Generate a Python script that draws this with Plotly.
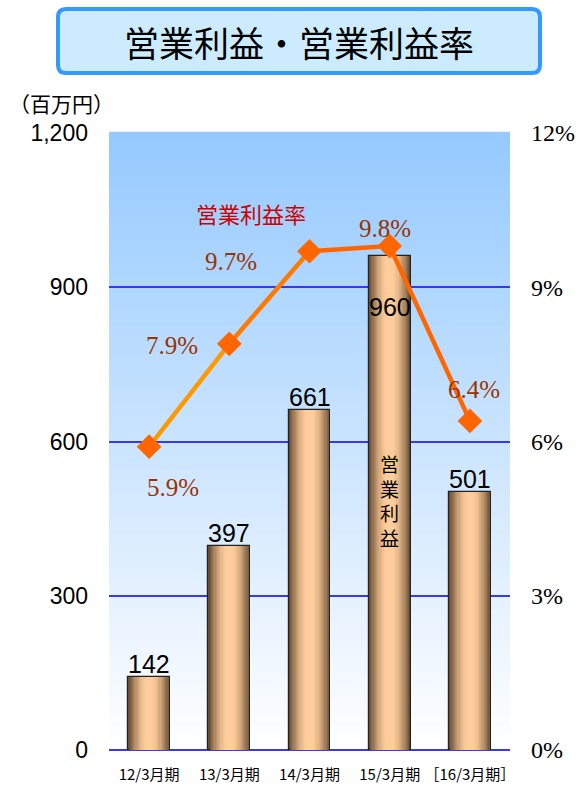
import plotly.graph_objects as go

# ---------------- data ----------------
categories = ["12/3月期", "13/3月期", "14/3月期", "15/3月期", "［16/3月期］"]
profit = [142, 397, 661, 960, 501]            # 営業利益 (百万円)
margin = [5.9, 7.9, 9.7, 9.8, 6.4]             # 営業利益率 (%)
left_ticks = [0, 300, 600, 900, 1200]
right_ticks = [0, 3, 6, 9, 12]

# ---------------- layout geometry ----------------
W, H = 582, 789
ML, MR, MT, MB = 109, 72, 133, 39
PW, PH = W - ML - MR, H - MT - MB

def px_x(px):
    return (px - ML) / PW

def px_y(py):
    return (H - MB - py) / PH

fig = go.Figure()

# bars with cylinder-like horizontal gradient (overlayed bars)
n_layers = 16
edge = (105, 78, 52)
center = (255, 205, 155)
base_w = 0.52
for i in range(n_layers):
    t = i / (n_layers - 1)
    k = 1 - (1 - t) ** 1.6
    c = tuple(int(edge[j] + (center[j] - edge[j]) * k) for j in range(3))
    w = base_w * (1 - 0.85 * t)
    fig.add_trace(go.Bar(
        x=categories, y=profit, width=w,
        marker=dict(color="rgb(%d,%d,%d)" % c,
                    line=dict(color="#222222" if i == 0 else "rgba(0,0,0,0)",
                              width=1.2 if i == 0 else 0)),
        hoverinfo="skip", showlegend=False, yaxis="y"))

# margin line segments (color shifts along the line)
seg_colors = ["#FF9900", "#FF7A00", "#FF6600", "#FF6600"]
for i in range(len(categories) - 1):
    fig.add_trace(go.Scatter(
        x=categories[i:i + 2], y=margin[i:i + 2], mode="lines",
        line=dict(color=seg_colors[i], width=4.5),
        yaxis="y2", showlegend=False, hoverinfo="skip"))
fig.add_trace(go.Scatter(
    x=categories, y=margin, mode="markers",
    marker=dict(symbol="diamond", size=19, color="#FF6600"),
    yaxis="y2", showlegend=False, hoverinfo="skip"))

annotations = []
# bar value labels
for i, (c, v) in enumerate(zip(categories, profit)):
    inside = (i == 3)
    annotations.append(dict(
        x=c, y=v, xref="x", yref="y", text=str(v), showarrow=False,
        xanchor="center", yanchor="top" if inside else "bottom",
        yshift=-35 if inside else -3,
        font=dict(family="Liberation Sans, Arial", size=25, color="black")))

# margin labels (offsets in px)
label_offsets = [(24, -41), (-57, -2), (-79, -10), (-5, 18), (4, 31)]
for c, v, (dx, dy) in zip(categories, margin, label_offsets):
    annotations.append(dict(
        x=c, y=v, xref="x", yref="y2", text="%.1f%%" % v, showarrow=False,
        xanchor="center", yanchor="middle", xshift=dx, yshift=dy,
        font=dict(family="Liberation Serif, Times New Roman", size=25, color="#993300")))

def txt(xp, yp, text, size, color="black", family="Noto Sans CJK JP"):
    return dict(x=px_x(xp), y=px_y(yp), xref="paper", yref="paper", text=text,
                showarrow=False, xanchor="center", yanchor="middle",
                font=dict(family=family, size=size, color=color))

annotations += [
    txt(251, 213, "営業利益率", 22, "#CC0000"),
    dict(x=categories[3], y=px_y(500), xref="x", yref="paper",
         text="営<br>業<br>利<br>益", showarrow=False, xanchor="center", yanchor="middle",
         font=dict(family="Noto Sans CJK JP", size=19, color="black")),
    txt(61, 103, "（百万円）", 21),
    txt(299, 41, "営業利益・営業利益率", 35),
]

shapes = []
# vertical gradient background of plot area
nb = 80
top = (150, 202, 255)
bot = (255, 255, 255)
for i in range(nb):
    t = i / (nb - 1)
    c = tuple(int(top[j] + (bot[j] - top[j]) * t) for j in range(3))
    shapes.append(dict(type="rect", xref="x domain", yref="y domain",
                       x0=0, x1=1, y0=1 - (i + 1) / nb, y1=1 - i / nb + 0.002,
                       fillcolor="rgb(%d,%d,%d)" % c, line=dict(width=0), layer="below"))

# title box (rounded rectangle)
x0, x1, y0, y1, r = px_x(58), px_x(540), px_y(73), px_y(9), 8
rx, ry = r / PW, r / PH
path = (f"M {x0+rx},{y0} L {x1-rx},{y0} Q {x1},{y0} {x1},{y0+ry} "
        f"L {x1},{y1-ry} Q {x1},{y1} {x1-rx},{y1} L {x0+rx},{y1} "
        f"Q {x0},{y1} {x0},{y1-ry} L {x0},{y0+ry} Q {x0},{y0} {x0+rx},{y0} Z")
shapes.append(dict(type="path", xref="paper", yref="paper", path=path,
                   fillcolor="#CCEBFF", line=dict(color="#3399FF", width=4)))

fig.update_layout(
    width=W, height=H,
    margin=dict(l=ML, r=MR, t=MT, b=MB, pad=0, autoexpand=False),
    paper_bgcolor="white", plot_bgcolor="white",
    barmode="overlay", bargap=0,
    showlegend=False,
    xaxis=dict(type="category", range=[-0.5, 4.5], showgrid=False, zeroline=False,
               automargin=False,
               showline=False, ticks="", ticklabelstandoff=14,
               tickfont=dict(family="Noto Sans CJK JP", size=15, color="black")),
    yaxis=dict(range=[0, 1200], tickvals=left_ticks, tickformat=",d",
               automargin=False,
               showgrid=True, gridcolor="#3838F0", gridwidth=1.6,
               zeroline=True, zerolinecolor="#3838F0", zerolinewidth=1.6,
               showline=False, ticks="", ticklabelstandoff=20,
               tickfont=dict(family="Liberation Sans, Arial", size=23, color="black")),
    yaxis2=dict(range=[0, 12], tickvals=right_ticks,
                ticktext=["%d%%" % v for v in right_ticks], overlaying="y",
                automargin=False,
                side="right", showgrid=False, zeroline=False, showline=False, ticks="",
                ticklabelstandoff=20,
                tickfont=dict(family="Liberation Serif, Times New Roman", size=24, color="black")),
    annotations=annotations, shapes=shapes,
)

fig.write_html("out.html", config={"displayModeBar": False},
               post_script="document.body.style.margin='0px';document.body.style.padding='0px';")
